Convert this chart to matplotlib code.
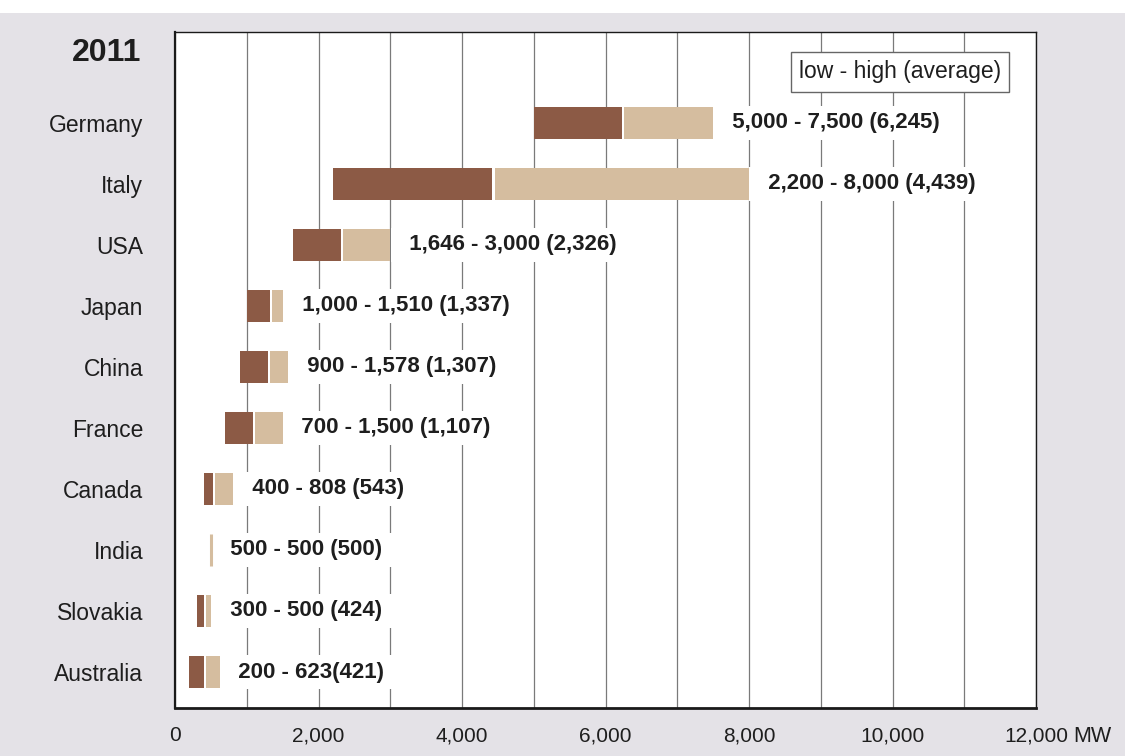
import matplotlib
matplotlib.use("Agg")
import matplotlib.pyplot as plt
from matplotlib.patches import Rectangle
from matplotlib import font_manager as fm

# ---- data ----
countries = ["Germany", "Italy", "USA", "Japan", "China", "France",
             "Canada", "India", "Slovakia", "Australia"]
low = [5000, 2200, 1646, 1000, 900, 700, 400, 500, 300, 200]
high = [7500, 8000, 3000, 1510, 1578, 1500, 808, 500, 500, 623]
avg = [6245, 4439, 2326, 1337, 1307, 1107, 543, 500, 424, 421]
value_labels = ["5,000 - 7,500 (6,245)", "2,200 - 8,000 (4,439)",
                "1,646 - 3,000 (2,326)", "1,000 - 1,510 (1,337)",
                "900 - 1,578 (1,307)", "700 - 1,500 (1,107)",
                "400 - 808 (543)", "500 - 500 (500)",
                "300 - 500 (424)", "200 - 623(421)"]
xticks = [0, 2000, 4000, 6000, 8000, 10000, 12000]
xtick_labels = ["0", "2,000", "4,000", "6,000", "8,000", "10,000", "12,000"]
year = "2011"
legend_text = "low - high (average)"
unit = "MW"

# ---- style ----
def has_font(name):
    try:
        fm.findfont(fm.FontProperties(family=name), fallback_to_default=False)
        return True
    except Exception:
        return False

BASE = "Liberation Sans" if has_font("Liberation Sans") else "DejaVu Sans"
NARROW = "Liberation Sans Narrow" if has_font("Liberation Sans Narrow") else BASE
plt.rcParams["font.family"] = [BASE, "DejaVu Sans"]

DARK = "#8c5a45"
LIGHT = "#d5bd9f"
BG = "#e4e2e7"
TXT = "#1e1e1e"

fig = plt.figure(figsize=(11.25, 7.56), dpi=100, facecolor=BG)
# white strip at very top (scan margin)
fig.patches.append(Rectangle((0, 1 - 13 / 756), 1, 13 / 756, transform=fig.transFigure,
                             facecolor="white", edgecolor="none", zorder=0))

ax = fig.add_axes([175 / 1125, 1 - 708 / 756, (1036 - 175) / 1125, (708 - 32) / 756])
ax.set_facecolor("white")

n = len(countries)
ypos = list(range(n))
bar_h = 0.53
gap = 28  # data units for the small white gap between the two segments

for i in range(n):
    lo, hi, av = low[i], high[i], avg[i]
    if hi == lo:
        ax.plot([lo, lo], [i - bar_h / 2, i + bar_h / 2], color=LIGHT, lw=2.2,
                solid_capstyle="butt", zorder=6)
    else:
        ax.barh(i, av - lo - gap / 2, left=lo, height=bar_h, color=DARK, zorder=3)
        ax.barh(i, hi - av - gap / 2, left=av + gap / 2, height=bar_h, color=LIGHT, zorder=3)
    # leading/trailing spaces widen the white backing box horizontally
    ax.annotate("  " + value_labels[i] + "  ", xy=(hi, i), xytext=(4.8, 0),
                textcoords="offset points",
                ha="left", va="center", fontsize=16, fontweight="bold", color=TXT,
                zorder=4,
                bbox=dict(boxstyle="square,pad=0.28", facecolor="white", edgecolor="none"))

ax.set_xlim(0, 12000)
ax.set_ylim(n - 1 + 0.59, -1.49)
ax.set_axisbelow(True)
ax.set_xticks(xticks)
ax.set_xticks(range(1000, 12000, 2000), minor=True)
ax.xaxis.grid(True, which="both", color="#7a7a7a", lw=0.9)
ax.set_xticklabels(xtick_labels, fontsize=15, color=TXT)
ax.tick_params(axis="x", length=0, pad=13, which="both")
ax.set_yticks(ypos)
ax.set_yticklabels(countries, fontsize=16.5, color=TXT)
ax.tick_params(axis="y", length=0, pad=23)

for side, lw in [("left", 1.6), ("bottom", 2.0), ("top", 1.0), ("right", 1.0)]:
    ax.spines[side].set_linewidth(lw)
    ax.spines[side].set_color("#1a1a1a")

# unit after last tick label
ax.annotate(unit, xy=(12000, 0), xycoords=("data", "axes fraction"),
            xytext=(27, -13), textcoords="offset points", ha="left", va="top",
            fontsize=15.5, color=TXT)

# year title
fig.text(141 / 1125, 1 - 53 / 756, year, ha="right", va="center",
         fontsize=23, fontweight="bold", family=[NARROW, "DejaVu Sans"], color=TXT)

# legend box
ax.text(0.842, 0.941, legend_text, transform=ax.transAxes, ha="center", va="center",
        fontsize=16.5, color=TXT, zorder=5,
        bbox=dict(boxstyle="square,pad=0.36", facecolor="white", edgecolor="#666666", lw=1.0))

fig.savefig("out.png", dpi=100, facecolor=BG)
